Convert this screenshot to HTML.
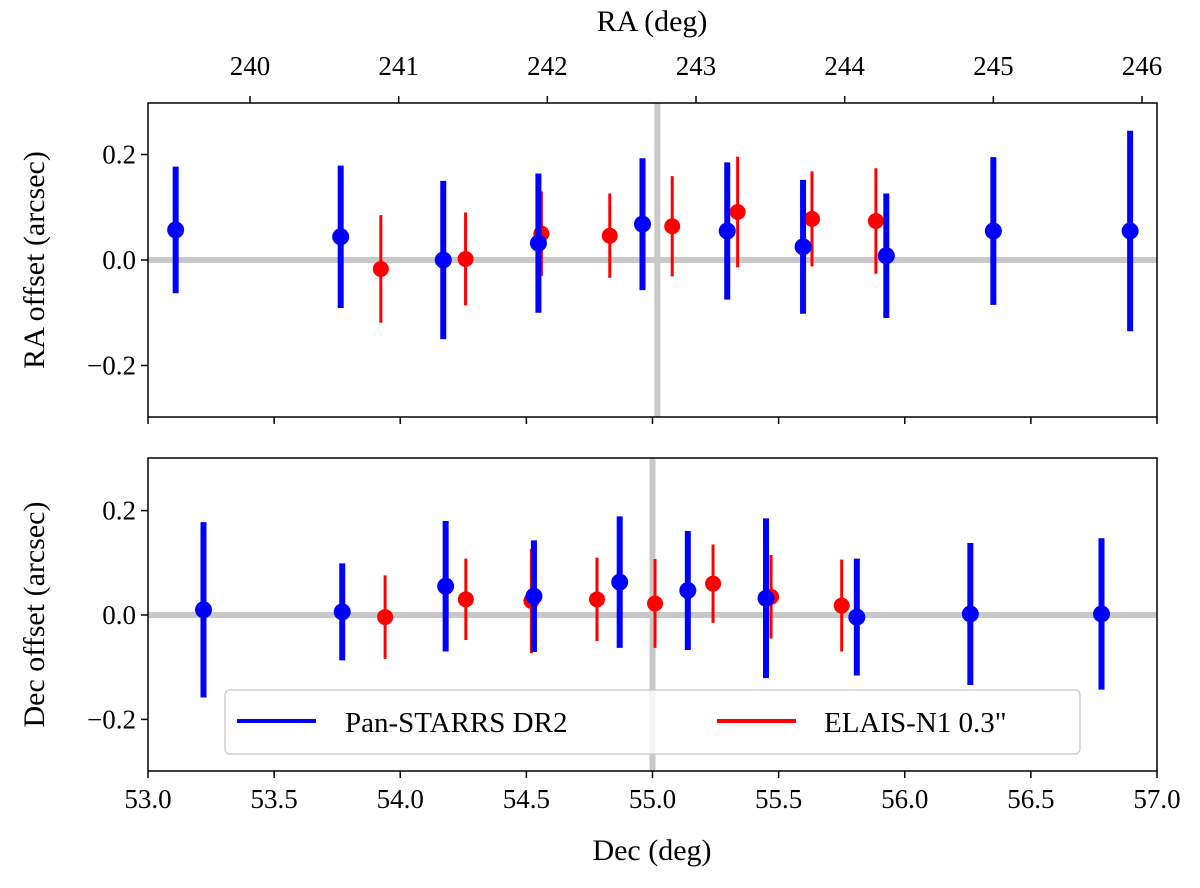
<!DOCTYPE html>
<html><head><meta charset="utf-8"><style>
body{margin:0;background:#fff}
svg text{font-family:"Liberation Serif",serif;fill:#000}
</style></head><body>
<svg id="c" width="1200" height="883" viewBox="0 0 1200 883" xmlns="http://www.w3.org/2000/svg"></svg>
<script>
// Top panel (RA)
const topBlueX=[239.50,240.61,241.30,241.94,242.64,243.21,243.72,244.28,245.00,245.92];
const topBlueY=[0.057,0.044,0.0,0.032,0.068,0.055,0.025,0.008,0.055,0.055];
const topBlueE=[0.12,0.135,0.15,0.132,0.125,0.13,0.127,0.118,0.14,0.19];
const topRedX=[240.88,241.45,241.96,242.42,242.84,243.28,243.78,244.21];
const topRedY=[-0.017,0.002,0.05,0.046,0.064,0.091,0.078,0.074];
const topRedE=[0.102,0.088,0.08,0.08,0.095,0.105,0.09,0.1];
// Bottom panel (Dec)
const botBlueX=[53.22,53.77,54.18,54.53,54.87,55.14,55.45,55.81,56.26,56.78];
const botBlueY=[0.01,0.006,0.055,0.036,0.063,0.047,0.032,-0.004,0.002,0.002];
const botBlueE=[0.168,0.093,0.125,0.107,0.126,0.114,0.153,0.112,0.136,0.145];
const botRedX=[53.94,54.26,54.52,54.78,55.01,55.24,55.47,55.75];
const botRedY=[-0.004,0.03,0.027,0.03,0.022,0.06,0.035,0.018];
const botRedE=[0.08,0.078,0.1,0.08,0.085,0.075,0.08,0.088];
const raTicks=[240,241,242,243,244,245,246];
const decTicks=[53.0,53.5,54.0,54.5,55.0,55.5,56.0,56.5,57.0];
const yTicks=[-0.2,0.0,0.2];

const S=document.getElementById('c');const NS='http://www.w3.org/2000/svg';
function mk(t,a,p){const e=document.createElementNS(NS,t);for(const k in a)e.setAttribute(k,a[k]);(p||S).appendChild(e);return e;}
const L=148,R=1157;
const xRA=v=>250+(v-240)*148.67;
const xDec=v=>L+(v-53)*(R-L)/4;
const yTop=v=>260-v*527.5, yBot=v=>615-v*522;
function uminus(v){return v<0?'\u2212'+Math.abs(v).toFixed(1):v.toFixed(1);}

function panel(name,top,bot,fy,xs,vline){
  const g=mk('g',{});
  
  
  mk('line',{x1:L,x2:R,y1:fy(0),y2:fy(0),stroke:'#c8c8c8','stroke-width':6},g);
  const vl=mk('line',{x1:vline,x2:vline,y1:top,y2:bot,stroke:'#c8c8c8','stroke-width':6},g);
  
  return g;
}
function series(g,X,Y,E,fx,fy,col,w,r,name){
  for(let i=0;i<X.length;i++){
    const x=fx(X[i]);
    const l=mk('line',{x1:x,x2:x,y1:fy(Y[i]+E[i]),y2:fy(Y[i]-E[i]),stroke:col,'stroke-width':w},g);
    
    
    const c=mk('circle',{cx:x,cy:fy(Y[i]),r:r,fill:col},g);
    
    
  }
}
function yaxis(top,bot,fy,label){
  yTicks.forEach(v=>{const y=fy(v);
    mk('line',{x1:L-7,x2:L,y1:y,y2:y,stroke:'#000','stroke-width':1.5});
    const t=mk('text',{x:L-12,y:y+9,'text-anchor':'end','font-size':27});t.textContent=uminus(v);
    });
  const t=mk('text',{x:0,y:0,'text-anchor':'middle','font-size':30,transform:`translate(44,${(top+bot)/2}) rotate(-90)`});
  t.textContent=label;
  const f=mk('rect',{x:L,y:top,width:R-L,height:bot-top,fill:'none',stroke:'#000','stroke-width':1.5});
  
}
// top
const g1=panel('ra-offset-panel',103,417,yTop,xRA,xRA(242.74));
series(g1,topRedX,topRedY,topRedE,xRA,yTop,'#ff0000',3,8,'elais');
series(g1,topBlueX,topBlueY,topBlueE,xRA,yTop,'#0000ff',6,8.5,'panstarrs');
yaxis(103,417,yTop,'RA offset (arcsec)');
raTicks.forEach(v=>{const x=xRA(v);mk('line',{x1:x,x2:x,y1:96,y2:103,stroke:'#000','stroke-width':1.5});
  const t=mk('text',{x:x,y:75,'text-anchor':'middle','font-size':27});t.textContent=v;});
let t=mk('text',{x:652,y:31,'text-anchor':'middle','font-size':30});t.textContent='RA (deg)';
// bottom
const g2=panel('dec-offset-panel',458,771,yBot,xDec,xDec(55.0));
series(g2,botRedX,botRedY,botRedE,xDec,yBot,'#ff0000',3,8,'elais');
series(g2,botBlueX,botBlueY,botBlueE,xDec,yBot,'#0000ff',6,8.5,'panstarrs');
yaxis(458,771,yBot,'Dec offset (arcsec)');
decTicks.forEach(v=>{const x=xDec(v);mk('line',{x1:x,x2:x,y1:771,y2:778,stroke:'#000','stroke-width':1.5});
  const t=mk('text',{x:x,y:808,'text-anchor':'middle','font-size':27});t.textContent=v.toFixed(1);});
t=mk('text',{x:652,y:860,'text-anchor':'middle','font-size':30});t.textContent='Dec (deg)';
decTicks.forEach(v=>{const x=xDec(v);mk('line',{x1:x,x2:x,y1:417,y2:424,stroke:'#000','stroke-width':1.5});});
// legend
const lg=mk('g',{});


mk('rect',{x:225,y:690,width:855,height:64,rx:5,fill:'rgba(255,255,255,0.8)',stroke:'#d0d0d0','stroke-width':1.5},lg);
mk('line',{x1:237,x2:316,y1:721,y2:721,stroke:'#0000ff','stroke-width':4},lg);
t=mk('text',{x:345,y:732,'font-size':29},lg);t.textContent='Pan-STARRS DR2';
mk('line',{x1:717,x2:796,y1:721,y2:721,stroke:'#ff0000','stroke-width':4},lg);
t=mk('text',{x:824,y:732,'font-size':29},lg);t.textContent='ELAIS-N1 0.3"';
</script>
</body></html>
